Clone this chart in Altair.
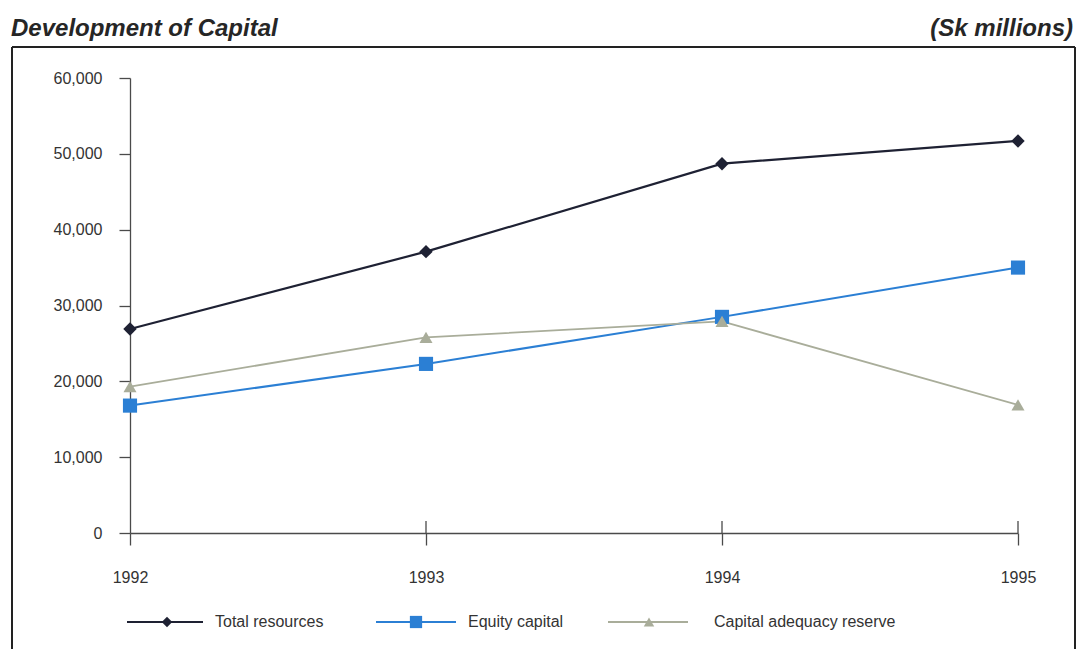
import altair as alt
import pandas as pd

# Values in Sk millions
years = [1992, 1993, 1994, 1995]
series_names = ["Total resources", "Equity capital", "Capital adequacy reserve"]
total_resources = [26900, 37100, 48700, 51700]
equity_capital = [16800, 22300, 28500, 35000]
capital_adequacy_reserve = [19300, 25800, 27900, 16900]
y_ticks = [0, 10000, 20000, 30000, 40000, 50000, 60000]

colors = ["#1e2133", "#2b7fd4", "#a9ad9a"]
marker_shapes = ["diamond", "square", "triangle-up"]
marker_sizes = [180, 200, 170]
legend_marker_sizes = [110, 150, 110]
line_widths = [2.2, 1.8, 2.0]

rows = []
for name, vals in zip(series_names, [total_resources, equity_capital, capital_adequacy_reserve]):
    for yr, v in zip(years, vals):
        rows.append({"year": yr, "value": v, "series": name})
df = pd.DataFrame(rows)

W, H = 888, 455
FONT = "Liberation Sans"
AXIS_COLOR = "#4a4a4a"
TEXT_COLOR = "#333333"

x_enc = alt.X(
    "year:Q",
    scale=alt.Scale(domain=[1992, 1995], nice=False, zero=False),
    axis=alt.Axis(values=years, format="d", title=None, grid=False, tickSize=12,
                  labelPadding=24, labelFont=FONT, labelFontSize=16, labelColor=TEXT_COLOR,
                  domainColor=AXIS_COLOR, tickColor=AXIS_COLOR, domainWidth=1.3, tickWidth=1.3,
                  labelFlush=False),
)
y_enc = alt.Y(
    "value:Q",
    scale=alt.Scale(domain=[0, 60000], nice=False),
    axis=alt.Axis(values=y_ticks, format=",d", title=None, grid=False, tickSize=11,
                  labelPadding=17, labelFont=FONT, labelFontSize=16, labelColor=TEXT_COLOR,
                  domainColor=AXIS_COLOR, tickColor=AXIS_COLOR, domainWidth=1.3, tickWidth=1.3),
)

color_scale = alt.Scale(domain=series_names, range=colors)
width_scale = alt.Scale(domain=series_names, range=line_widths)

base = alt.Chart(df)

lines = base.mark_line().encode(
    x=x_enc,
    y=y_enc,
    color=alt.Color("series:N", scale=color_scale, legend=None),
    strokeWidth=alt.StrokeWidth("series:N", scale=width_scale, legend=None),
)

# one marker layer per series
marker_layers = []
for name, col, shp, sz in zip(series_names, colors, marker_shapes, marker_sizes):
    marker_layers.append(
        base.mark_point(filled=True, opacity=1, shape=shp, size=sz, color=col)
        .encode(x="year:Q", y="value:Q")
        .transform_filter(alt.datum.series == name)
    )

# legend row below the axis: key line, marker, label (pixel layout)
legend_df = pd.DataFrame({
    "series": series_names,
    "x0": [-3, 246, 478],
    "x1": [73, 326, 558],
    "xm": [37, 286, 519],
    "xt": [85, 338, 584],
})
LEG_Y = 544
legend_lines = alt.Chart(legend_df).mark_rule().encode(
    x=alt.X("x0:Q", scale=None), x2="x1:Q", y=alt.value(LEG_Y),
    color=alt.Color("series:N", scale=color_scale, legend=None),
    strokeWidth=alt.StrokeWidth("series:N", scale=width_scale, legend=None),
)
legend_markers = []
for name, col, shp, sz in zip(series_names, colors, marker_shapes, legend_marker_sizes):
    legend_markers.append(
        alt.Chart(legend_df).mark_point(filled=True, opacity=1, shape=shp, size=sz, color=col)
        .encode(x=alt.X("xm:Q", scale=None), y=alt.value(LEG_Y))
        .transform_filter(alt.datum.series == name)
    )
legend_text = alt.Chart(legend_df).mark_text(
    align="left", baseline="middle", font=FONT, fontSize=16, color=TEXT_COLOR
).encode(x=alt.X("xt:Q", scale=None), y=alt.value(LEG_Y), text="series:N")

# ticks crossing the x axis upward
tick_df = pd.DataFrame({"year": years[1:]})
up_ticks = alt.Chart(tick_df).mark_rule(color=AXIS_COLOR, strokeWidth=1.3).encode(
    x="year:Q", y=alt.value(H - 12), y2=alt.value(H)
)

# frame around the figure
one = pd.DataFrame({"k": [0]})
frame_top = alt.Chart(one).mark_rule(color="#222222", strokeWidth=2).encode(
    x=alt.value(-118), x2=alt.value(945), y=alt.value(-31)
)
frame_left = alt.Chart(one).mark_rule(color="#222222", strokeWidth=2).encode(
    x=alt.value(-118), y=alt.value(-31), y2=alt.value(571)
)
frame_right = alt.Chart(one).mark_rule(color="#222222", strokeWidth=2).encode(
    x=alt.value(945), y=alt.value(-31), y2=alt.value(571)
)

title_left = alt.Chart(one).mark_text(
    align="left", baseline="alphabetic", font=FONT, fontSize=24, fontWeight="bold",
    fontStyle="italic", color="#262626"
).encode(x=alt.value(-119), y=alt.value(-42), text=alt.value("Development of Capital"))

title_right = alt.Chart(one).mark_text(
    align="right", baseline="alphabetic", font=FONT, fontSize=24, fontWeight="bold",
    fontStyle="italic", color="#262626"
).encode(x=alt.value(943), y=alt.value(-42), text=alt.value("(Sk millions)"))

chart = alt.layer(
    frame_top, frame_left, frame_right, title_left, title_right,
    lines, up_ticks, *marker_layers,
    legend_lines, *legend_markers, legend_text,
).properties(
    width=W,
    height=H,
    padding={"left": 130, "top": 78, "right": 60, "bottom": 116},
    autosize=alt.AutoSizeParams(type="none"),
    background="white",
).configure_view(stroke=None)

chart.save("out.html", embed_options={"renderer": "svg", "actions": False})
